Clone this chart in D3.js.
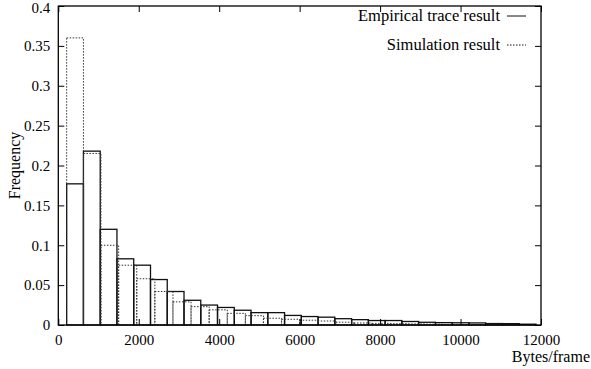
<!DOCTYPE html>
<html>
<head>
<meta charset="utf-8">
<script src="https://cdn.jsdelivr.net/npm/d3@7"></script>
<style>
  body { margin: 0; background: #fff; }
  svg text { font-family: "Liberation Serif", "Times New Roman", serif; fill: #000; }
</style>
</head>
<body>
<svg id="chart" width="591" height="369"></svg>
<script>
// empirical trace histogram: bin edges (bytes) and frequencies
const empEdges = [208, 625, 1042, 1458, 1875, 2292, 2708, 3125, 3542, 3958, 4375, 4792, 5208, 5625,
  6042, 6458, 6875, 7292, 7708, 8125, 8542, 8958, 9375, 9792, 10208, 10625, 11042, 11458, 11875];
const empFreq = [0.177, 0.218, 0.120, 0.083, 0.075, 0.057, 0.042, 0.031, 0.025, 0.022, 0.0185, 0.0155,
  0.0155, 0.012, 0.0106, 0.0098, 0.0079, 0.0067, 0.0056, 0.0056, 0.0044, 0.0034, 0.0030, 0.0028,
  0.0026, 0.0018, 0.0017, 0.0010];

// simulation histogram
const simEdges = [208, 625, 1060, 1500, 1950, 2400, 2850, 3300, 3750, 4200, 4650, 5100, 5550, 6000,
  6450, 6900, 7350, 7800, 8250, 8700, 9150, 9600, 10050, 10500, 10950, 11400];
const simFreq = [0.360, 0.215, 0.100, 0.075, 0.058, 0.042, 0.029, 0.023, 0.019, 0.0146, 0.0117, 0.0085,
  0.0072, 0.006, 0.005, 0.0035, 0.0025, 0.002, 0.0017, 0.0013, 0.001, 0.0008, 0.0006, 0.0004, 0.0003];

const xTicks = [0, 2000, 4000, 6000, 8000, 10000, 12000];
const yTicks = [0, 0.05, 0.1, 0.15, 0.2, 0.25, 0.3, 0.35, 0.4];

const svg = d3.select("#chart");
const margin = { top: 6, right: 50, bottom: 44, left: 58.3 };
const W = 591, H = 369;
const x = d3.scaleLinear().domain([0, 12000]).range([margin.left, W - margin.right]);
const y = d3.scaleLinear().domain([0, 0.4]).range([H - margin.bottom, margin.top]);

const toBins = (edges, vals) => vals.map((v, i) => ({ x0: edges[i], x1: edges[i + 1], v }));

// empirical boxes (solid)
svg.append("g")
  .selectAll("rect")
  .data(toBins(empEdges, empFreq))
  .join("rect")
  .attr("x", (d) => x(d.x0))
  .attr("y", (d) => y(d.v))
  .attr("width", (d) => x(d.x1) - x(d.x0))
  .attr("height", (d) => y(0) - y(d.v))
  .attr("fill", "none")
  .attr("stroke", "#111")
  .attr("stroke-width", 1.3);

// simulation boxes (dotted)
svg.append("g")
  .selectAll("rect")
  .data(toBins(simEdges, simFreq))
  .join("rect")
  .attr("x", (d) => x(d.x0))
  .attr("y", (d) => y(d.v))
  .attr("width", (d) => x(d.x1) - x(d.x0))
  .attr("height", (d) => y(0) - y(d.v))
  .attr("fill", "none")
  .attr("stroke", "#333")
  .attr("stroke-width", 1)
  .attr("stroke-dasharray", "1.5,1.5");

// axes, ticks pointing inward on all sides
const tk = 6;
const fmtY = (d) => String(d);
svg.append("g")
  .attr("transform", `translate(0,${y(0)})`)
  .call(d3.axisBottom(x).tickValues(xTicks).tickSize(-tk).tickPadding(9).tickFormat(d3.format("d")));
svg.append("g")
  .attr("transform", `translate(0,${y(0.4)})`)
  .call(d3.axisTop(x).tickValues(xTicks).tickSize(-tk).tickFormat(""));
const yAxisG = svg.append("g")
  .attr("transform", `translate(${x(0)},0)`)
  .call(d3.axisLeft(y).tickValues(yTicks).tickSize(-tk).tickPadding(8).tickFormat(fmtY));
svg.append("g")
  .attr("transform", `translate(${x(12000)},0)`)
  .call(d3.axisRight(y).tickValues(yTicks).tickSize(-tk).tickFormat(""));

svg.selectAll(".domain").remove();
svg.selectAll(".tick line").attr("stroke", "#000").attr("stroke-width", 1);
svg.selectAll(".tick text").attr("font-size", 15).attr("font-family", "Liberation Serif");
// keep the top label inside the picture
yAxisG.selectAll(".tick text").filter((d) => d === 0.4).attr("dy", "0.45em");

// border
svg.append("rect")
  .attr("x", x(0))
  .attr("y", y(0.4))
  .attr("width", x(12000) - x(0))
  .attr("height", y(0) - y(0.4))
  .attr("fill", "none")
  .attr("stroke", "#000")
  .attr("stroke-width", 1.3);

// axis titles
svg.append("text")
  .attr("x", W - 1)
  .attr("y", 362)
  .attr("text-anchor", "end")
  .attr("font-size", 16)
  .text("Bytes/frame");

svg.append("text")
  .attr("transform", `translate(20,${(y(0) + y(0.4)) / 2}) rotate(-90)`)
  .attr("text-anchor", "middle")
  .attr("font-size", 16)
  .text("Frequency");

// legend
const legend = [
  { label: "Empirical trace result", dash: null, ty: 21 },
  { label: "Simulation result", dash: "1.5,1.5", ty: 50 },
];
const lg = svg.append("g");
legend.forEach((d) => {
  lg.append("text")
    .attr("x", 500)
    .attr("y", d.ty)
    .attr("text-anchor", "end")
    .attr("font-size", 16.5)
    .text(d.label);
  lg.append("line")
    .attr("x1", 507)
    .attr("x2", 526)
    .attr("y1", d.ty - 5)
    .attr("y2", d.ty - 5)
    .attr("stroke", "#111")
    .attr("stroke-width", 1)
    .attr("stroke-dasharray", d.dash);
});
</script>
</body>
</html>
